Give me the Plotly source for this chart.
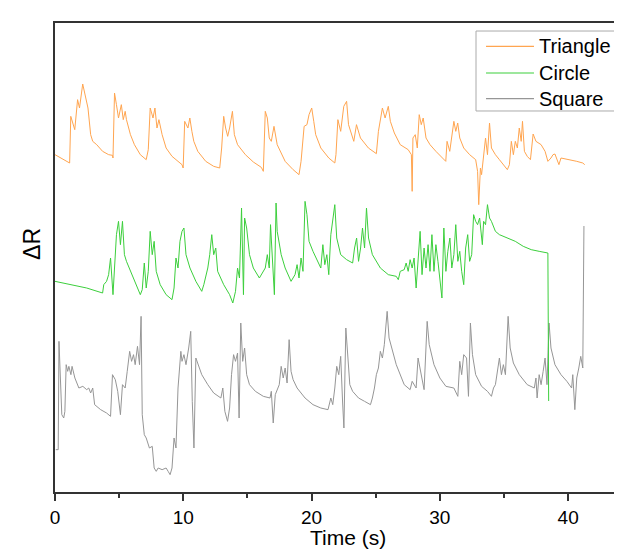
import plotly.graph_objects as go

# ---- Triangle (orange) ----
tri_t = [0.00,0.46,0.77,1.14,1.23,1.39,1.54,1.76,1.91,2.16,2.38,2.57,2.78,2.94,3.25,3.71,4.18,4.48,4.52,4.64,4.79,4.95,5.17,5.32,5.47,5.57,5.88,6.19,6.65,7.11,7.27,7.42,7.64,7.79,7.95,8.10,8.35,8.66,9.12,9.59,9.90,9.99,10.11,10.36,10.51,10.67,10.82,11.13,11.75,12.37,12.84,12.99,13.15,13.30,13.46,13.61,13.83,13.98,14.23,14.84,15.46,16.08,16.24,16.39,16.55,16.70,16.86,17.07,17.32,17.94,18.56,19.02,19.18,19.42,19.64,19.80,20.01,20.17,20.32,20.72,21.34,21.81,21.90,22.05,22.27,22.51,22.73,22.88,23.07,23.29,23.50,23.81,24.43,25.05,25.21,25.36,25.52,25.73,25.98,26.14,26.45,26.91,27.53,27.78,27.84,27.90,28.08,28.24,28.39,28.55,28.70,28.92,29.23,29.69,30.25,30.46,30.56,30.77,31.09,31.24,31.39,31.55,31.86,32.32,32.79,32.94,33.03,33.16,33.25,33.56,33.71,33.87,34.02,34.33,34.64,35.26,35.42,35.57,35.73,35.88,36.04,36.19,36.34,36.44,36.59,36.81,37.06,37.27,37.49,37.89,38.20,38.42,38.66,38.82,38.97,39.13,39.28,39.44,39.75,40.21,40.67,41.14,41.29]
tri_r = [1012,1002,994,987,1127,1102,1087,1177,1152,1224,1182,1152,1072,1052,1042,1022,1012,1010,1002,1197,1162,1122,1162,1117,1142,1117,1072,1042,1012,997,1027,1152,1122,1152,1092,1117,1072,1032,1007,992,982,972,1112,1092,1122,1082,1052,1022,992,977,972,1032,1127,1092,1067,1092,1142,1072,1042,1012,990,974,962,1142,1122,1062,1052,1097,1042,992,967,952,992,1097,1102,1132,1152,1112,1072,1032,1002,987,1012,1117,1082,1157,1172,1102,1077,1052,1102,1062,1032,1015,1082,1112,1152,1122,1157,1112,1077,1042,1027,1012,902,1062,1072,1032,1132,1102,1122,1062,1042,1022,1002,992,1052,1022,1112,1082,1107,1062,1032,1012,997,962,862,972,952,1062,1012,1107,1032,1012,997,967,982,1052,1012,1052,1032,1092,1052,1112,1022,1007,997,1074,1052,1042,1022,992,1002,1012,1014,997,982,1002,1000,997,992,987,982]

# ---- Circle (green) ----
cir_t = [0.00,1.24,2.47,3.71,3.80,4.02,4.18,4.33,4.42,4.52,4.64,4.79,4.95,5.10,5.26,5.41,5.57,5.88,6.34,6.65,6.80,6.96,7.11,7.27,7.42,7.58,7.73,7.89,8.20,8.66,9.12,9.28,9.43,9.59,9.74,9.90,10.05,10.21,10.52,10.98,11.44,11.60,11.91,12.06,12.22,12.37,12.53,12.68,13.15,13.61,13.86,14.07,14.23,14.38,14.54,14.69,14.78,14.94,15.16,15.46,15.93,16.39,16.55,16.70,16.80,16.92,17.10,17.23,17.32,17.41,17.63,17.94,18.40,18.71,18.87,19.02,19.18,19.33,19.49,19.64,19.80,20.11,20.41,20.72,20.88,21.03,21.19,21.34,21.50,21.65,21.81,21.96,22.27,22.73,23.20,23.35,23.51,23.66,23.82,23.97,24.13,24.28,24.44,24.74,25.36,25.98,26.60,26.76,26.91,27.22,27.37,27.53,27.68,27.84,27.99,28.15,28.30,28.46,28.61,28.77,28.92,29.08,29.23,29.38,29.54,29.69,29.85,30.00,30.16,30.31,30.47,30.62,30.78,30.93,31.09,31.24,31.40,31.55,31.70,31.86,32.01,32.17,32.32,32.48,32.63,32.79,32.94,33.10,33.19,33.31,33.41,33.56,33.71,33.87,34.02,34.33,34.64,35.26,35.88,36.50,37.12,37.74,38.42,38.48]
cir_r = [632,622,612,597,622,632,652,702,652,592,672,772,812,742,812,712,692,662,622,592,607,687,612,662,782,712,752,662,622,592,577,612,702,672,752,782,792,712,672,632,602,622,672,712,772,712,732,662,622,592,567,602,672,642,852,592,822,792,712,672,642,672,712,672,802,712,592,867,782,762,712,672,632,652,682,642,702,662,872,832,752,722,697,672,742,682,712,652,772,812,862,762,712,697,687,732,762,692,732,792,732,852,762,712,672,652,647,637,662,667,687,662,697,672,702,612,712,782,652,732,672,742,662,772,662,742,692,642,582,792,662,722,762,672,712,802,692,722,662,622,732,772,692,712,832,812,802,822,792,742,812,802,862,822,812,782,772,762,752,737,727,722,717,273]

# ---- Square (gray) ----
sq_t = [0.06,0.25,0.31,0.40,0.53,0.68,0.77,0.87,0.99,1.08,1.24,1.33,1.45,1.55,1.86,2.17,2.47,2.63,2.78,2.94,3.09,3.56,4.02,4.33,4.48,4.70,4.89,5.10,5.26,5.47,5.63,5.82,5.97,6.12,6.25,6.43,6.59,6.71,6.80,6.96,7.11,7.36,7.58,7.73,7.89,8.04,8.35,8.66,8.82,8.97,9.12,9.28,9.43,9.59,9.81,9.90,10.05,10.21,10.42,10.58,10.70,10.83,10.98,11.14,11.44,11.91,12.37,12.93,13.08,13.24,13.45,13.61,13.76,13.92,14.07,14.23,14.35,14.48,14.63,14.78,14.94,15.16,15.62,16.24,16.76,16.86,17.01,17.17,17.48,17.63,17.79,17.94,18.09,18.25,18.40,18.56,18.87,19.49,20.11,20.72,21.28,21.50,21.65,21.81,21.96,22.12,22.27,22.42,22.52,22.67,22.83,22.98,23.20,23.66,24.13,24.59,24.74,24.90,25.05,25.21,25.36,25.52,25.67,25.89,26.04,26.29,26.60,27.22,27.68,27.84,28.15,28.30,28.46,28.61,28.77,29.01,29.17,29.54,30.00,30.47,31.09,31.40,31.55,31.70,31.86,32.08,32.23,32.38,32.54,32.79,33.25,33.71,34.02,34.18,34.33,34.64,34.80,34.95,35.11,35.32,35.48,35.73,36.19,36.81,37.36,37.49,37.58,37.74,37.89,38.05,38.20,38.35,38.51,38.66,38.97,39.44,39.90,40.27,40.36,40.52,40.67,40.83,40.98,41.14,41.23]
sq_r = [127,127,452,352,232,222,242,382,362,377,352,377,357,342,312,317,307,312,297,312,262,247,237,227,352,337,302,232,322,312,362,422,392,412,382,437,382,527,232,172,162,132,137,72,62,72,67,72,62,52,72,162,132,312,422,392,412,382,432,482,272,132,402,382,352,322,297,282,312,242,212,252,352,412,392,417,222,507,392,432,352,322,302,287,282,302,207,292,322,377,342,372,327,457,362,337,312,282,262,252,247,282,262,312,377,352,407,267,192,492,412,322,302,282,272,262,282,312,352,372,422,402,442,542,462,422,382,322,307,332,312,402,372,342,307,512,442,382,342,317,312,287,392,352,412,402,287,507,412,352,317,302,287,312,322,402,352,382,352,527,432,387,352,322,312,342,282,352,322,362,402,322,507,432,382,352,332,312,352,247,342,372,407,372,798]

x_ticks = [0, 10, 20, 30, 40]
series_names = ["Triangle", "Circle", "Square"]
series_colors = {"Triangle": "#ffa550", "Circle": "#3ccf3c", "Square": "#969696"}

FONT = "Liberation Sans, Arial, sans-serif"

fig = go.Figure()
# draw order: Square, Circle, Triangle (green drop overlays gray)
fig.add_trace(go.Scatter(x=sq_t, y=sq_r, mode="lines", name="Square",
                         line=dict(color=series_colors["Square"], width=1), showlegend=False))
fig.add_trace(go.Scatter(x=cir_t, y=cir_r, mode="lines", name="Circle",
                         line=dict(color=series_colors["Circle"], width=1), showlegend=False))
fig.add_trace(go.Scatter(x=tri_t, y=tri_r, mode="lines", name="Triangle",
                         line=dict(color=series_colors["Triangle"], width=1), showlegend=False))

# legend box drawn in paper coordinates
shapes = [dict(type="rect", xref="paper", yref="paper", x0=0.7322, x1=0.9896,
               y0=0.8124, y1=0.9829, line=dict(color="#aaaaaa", width=1),
               fillcolor="white", layer="above")]
annotations = []
row_y = [0.9503, 0.8934, 0.8386]
for name, yy in zip(series_names, row_y):
    shapes.append(dict(type="line", xref="paper", yref="paper", x0=0.7496, x1=0.8330,
                       y0=yy, y1=yy, line=dict(color=series_colors[name], width=1.2),
                       layer="above"))
    annotations.append(dict(text=name, x=0.8380, xref="paper", y=yy, yref="paper",
                            xanchor="left", yanchor="middle", showarrow=False,
                            font=dict(size=20, family=FONT, color="black")))

annotations += [
    dict(text="Time (s)", x=22.8, xref="x", y=-0.096, yref="paper",
         xanchor="center", yanchor="middle", showarrow=False,
         font=dict(size=21, family=FONT, color="black")),
    dict(text="ΔR", x=-0.04, xref="paper", y=0.529, yref="paper",
         xanchor="center", yanchor="middle", textangle=-90, showarrow=False,
         font=dict(size=23, family=FONT, color="black")),
]

fig.update_layout(
    width=622, height=549,
    margin=dict(l=47, r=0, t=15, b=65),
    paper_bgcolor="white", plot_bgcolor="white",
    font=dict(family=FONT, color="black"),
    showlegend=False,
    xaxis=dict(range=[0, 44.82], tickvals=x_ticks, ticktext=[str(v) for v in x_ticks],
               ticks="outside", ticklen=7, tickwidth=2, tickcolor="#333",
               minor=dict(dtick=5, tick0=0, ticks="outside", ticklen=4, tickwidth=2, tickcolor="#333"),
               showline=True, linewidth=2, linecolor="#333", mirror=True,
               showgrid=False, zeroline=False,
               tickfont=dict(size=19, family=FONT, color="black")),
    yaxis=dict(range=[0, 1407], showticklabels=False, ticks="",
               showline=True, linewidth=2, linecolor="#333", mirror=False,
               showgrid=False, zeroline=False),
    shapes=shapes,
    annotations=annotations,
)

fig.write_html("out.html")
